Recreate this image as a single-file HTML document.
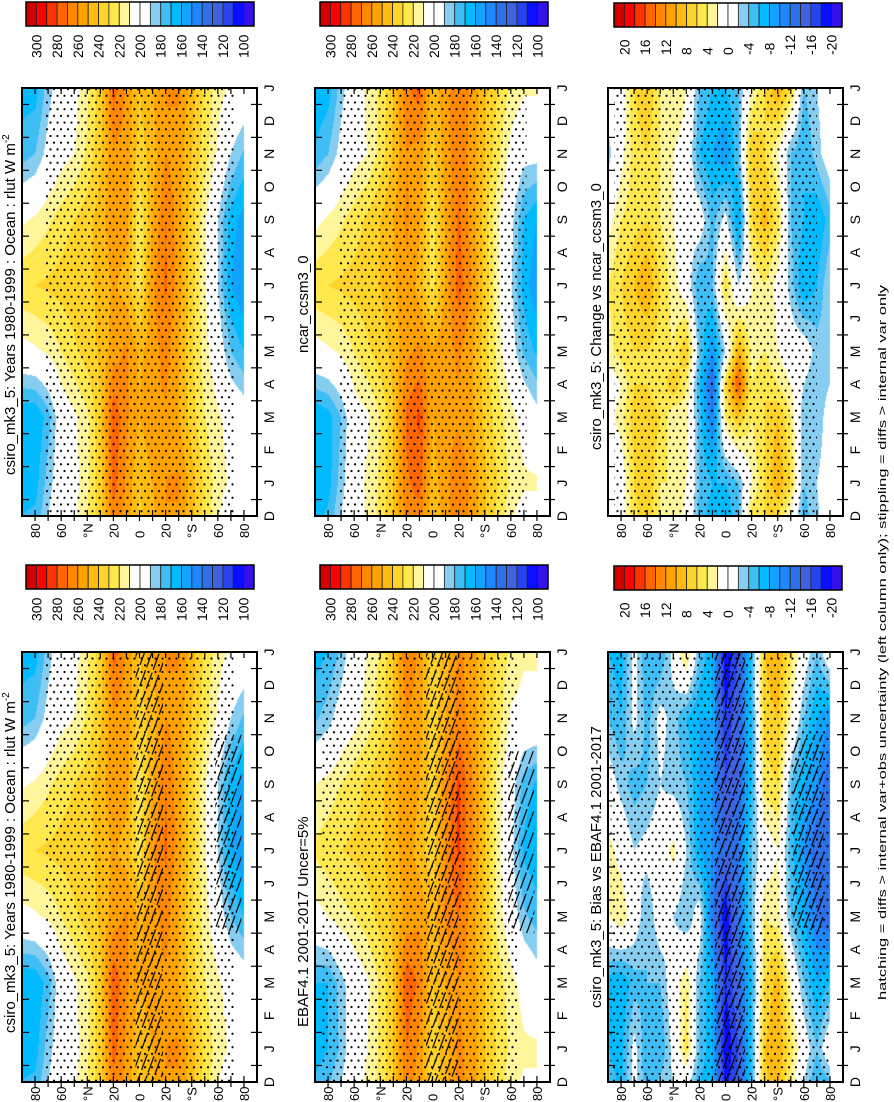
<!DOCTYPE html>
<html><head><meta charset="utf-8"><style>
html,body{margin:0;padding:0;background:#fff}
#root{position:relative;width:894px;height:1102px;overflow:hidden;font-family:"Liberation Sans",sans-serif}
canvas{position:absolute}
svg{position:absolute;left:0;top:0}
</style></head><body>
<div id="root">
<svg id="svg" width="894" height="1102" viewBox="0 0 894 1102">
<defs>
<pattern id="dots" patternUnits="userSpaceOnUse" width="7" height="13.4"><circle cx="1.5" cy="2" r="1.1" fill="#000"/><circle cx="5" cy="8.7" r="1.1" fill="#000"/></pattern>
<pattern id="hatch" patternUnits="userSpaceOnUse" width="7" height="40" patternTransform="rotate(20)"><line x1="2" y1="0" x2="2" y2="40" stroke="#000" stroke-width="1.2" stroke-dasharray="17 3"/></pattern>
</defs>
</svg>
</div>
<script>
// ---------- data (latitudes 90N..90S every 10 deg) ----------
const lats = [90,80,70,60,50,40,30,20,10,0,-10,-20,-30,-40,-50,-60,-70,-80,-90];
const monthLabels = ["D","J","F","M","A","M","J","J","A","S","O","N","D","J"];
const olrTicks = ["300","280","260","240","220","200","180","160","140","120","100"];
const diffTicks = ["20","16","12","8","4","0","-4","-8","-12","-16","-20"];
const latTickLabels = ["80","60","°N","20","0","20","°S","60","80"];
const latTickValues = [80,60,40,20,0,-20,-40,-60,-80];

const csiroMonths = [1,3,5,7,9,11];
const csiroOLR = [
 [165,165,185,200,205,218,235,275,258,240,250,260,262,245,228,215,208,205,null],
 [160,160,175,200,208,218,238,278,262,250,258,258,250,235,220,212,205,200,null],
 [205,208,212,220,228,235,242,255,262,248,255,265,250,232,215,200,180,170,null],
 [228,230,232,234,236,238,242,252,245,225,258,272,255,235,212,190,160,150,null],
 [208,212,218,225,230,236,245,258,255,222,250,270,255,235,212,190,165,155,null],
 [175,180,195,205,210,222,238,258,256,235,245,260,255,240,225,208,190,178,null]];
const ncarMonths = [1,3,5,7,9,11];
const ncarOLR = [
 [160,165,185,203,212,222,240,268,275,245,256,268,258,242,230,218,212,212,null],
 [160,165,180,203,208,220,240,272,282,250,258,258,252,238,225,214,205,195,null],
 [205,208,212,220,228,235,243,258,262,252,256,262,252,235,216,198,178,168,null],
 [228,230,232,234,236,240,248,258,246,226,252,275,260,238,212,192,165,152,null],
 [206,212,218,225,232,240,250,262,252,225,252,272,256,236,212,195,170,160,null],
 [172,180,195,205,210,224,242,260,256,236,255,268,256,240,224,206,195,195,null]];
const ebafMonths = [1,3,5,7,9,11];
const ebafOLR = [
 [165,170,182,202,210,222,240,270,258,232,245,262,256,240,228,218,212,212,null],
 [170,170,185,200,208,222,240,278,268,240,250,260,256,240,226,214,205,198,null],
 [205,210,216,220,226,233,242,254,258,246,262,270,256,238,216,200,182,175,null],
 [222,226,230,232,234,238,246,256,245,232,262,282,262,240,215,195,168,162,null],
 [210,214,220,226,232,238,246,258,250,234,260,282,262,240,216,198,175,168,null],
 [178,185,198,206,214,225,240,260,254,232,250,265,256,240,226,208,205,205,null]];
const changeMonths = [1,3,4,5,7,9,11];
const changeVals = [
 [0,0,6,8,4,4,2,-4,-6,-6,-4,2,6,10,6,-4,-2,0,null],
 [1,3,7,8,6,2,3,-5,-12,4,8,4,6,8,4,-4,-4,0,null],
 [0,2,6,6,4,8,4,-6,-14,6,16,4,6,4,2,-2,-4,-2,null],
 [3,5,6,6,5,4,8,-4,-10,-2,10,3,4,2,0,0,-3,-3,null],
 [4,6,8,10,6,3,0,-6,-4,6,-2,2,4,1,-3,-8,-6,-2,null],
 [1,4,5,6,4,2,-1,0,-5,-1,-9,6,9,5,-4,-6,-8,-5,null],
 [-3,1,5,6,4,2,1,-6,-8,-10,-4,8,6,2,-4,-6,-3,0,null]];
const biasMonths = [1,3,5,7,9,11];
const biasVals = [
 [-6,-7,-1,-6,-6,-1,5,-4,-8,-20,-16,-5,8,10,5,0,-4,1,null],
 [-7,-8,-5,-4,-4,0,4,-4,-8,-18,-14,-6,6,9,2,-4,-8,-6,null],
 [2,4,0,-4,0,-2,-4,0,-12,-20,-12,-4,4,3,-4,-8,-12,-14,null],
 [3,1,-2,-1,0,3,-2,-8,-10,-14,-12,-4,0,2,-5,-10,-14,-14,null],
 [0,-3,-5,-4,-2,-3,-4,-8,-10,-16,-14,-6,5,6,-4,-8,-10,-14,null],
 [-4,-6,-1,-5,-1,-3,-6,-8,-8,-18,-14,-6,7,8,2,-4,-8,-10,null]];

const palette = ['#d40000','#ff0000','#ff3300','#ff6600','#ff8800','#ffa200','#ffbb11','#ffd42a','#ffe84d','#fff59a','#ffffff','#ffffff','#87cdf0','#3fbdf5','#00bbff','#11a3ff','#1e88ff','#2e70e8','#4062e0','#2844f0','#0a10ff','#3412ee'];

// ---------- layout ----------
const colX = [22,315,608], panelW = 235;
const rowY = [88,652], rowH = [428,430];
const cbY = [2,565], cbH = 24, cbW = 228, cbX = [26,320,614];
const latLabOff = [22,19];
const panels = [
 {name:"csiro-climatology-top",row:0,col:0,F:csiroOLR,ms:csiroMonths,hi:300,step:10,title:"csiro_mk3_5: Years 1980-1999 : Ocean : rlut W m",sup:"-2",ty:475,stip:[[72,-72,0,13]],hat:[]},
 {name:"ncar-climatology",row:0,col:1,F:ncarOLR,ms:ncarMonths,hi:300,step:10,title:"ncar_ccsm3_0",ty:353,stip:[[72,-72,0,13]],hat:[]},
 {name:"change-vs-ncar",row:0,col:2,F:changeVals,ms:changeMonths,hi:20,step:2,title:"csiro_mk3_5: Change vs ncar_ccsm3_0",ty:450,stip:[[85,-70,0,13]],hat:[]},
 {name:"csiro-climatology-bottom",row:1,col:0,F:csiroOLR,ms:csiroMonths,hi:300,step:10,title:"csiro_mk3_5: Years 1980-1999 : Ocean : rlut W m",sup:"-2",ty:1033,stip:[[72,-72,0,13]],hat:[[3,-18,0,13],[-58,-78,4.5,10.5]]},
 {name:"ebaf-observations",row:1,col:1,F:ebafOLR,ms:ebafMonths,hi:300,step:10,title:"EBAF4.1 2001-2017 Uncer=5%",ty:1027,stip:[[85,-65,0,13]],hat:[[5,-20,0,13],[-58,-78,4.5,10]]},
 {name:"bias-vs-ebaf",row:1,col:2,F:biasVals,ms:biasMonths,hi:20,step:2,title:"csiro_mk3_5: Bias vs EBAF4.1 2001-2017",ty:1008,stip:[[88,-80,0,13]],hat:[[8,-15,0,13],[-52,-75,4.5,10.5]]}
];

function hex(c){return [parseInt(c.slice(1,3),16),parseInt(c.slice(3,5),16),parseInt(c.slice(5,7),16)];}
const palRGB = palette.map(hex);
function colorIndex(v,hi,step){ if(v>=hi) return 0; return Math.min(21,Math.floor((hi-v)/step)+1); }
function latRow(row,lat){ const f=(90-lat)/10; const j=Math.max(0,Math.min(17,Math.floor(f))); const a=f-j;
  const v0=row[j], v1=row[j+1]; if(v0==null||v1==null) return null; return v0+(v1-v0)*a; }
function fieldVal(F,ms,lat,u){
  u=((u%12)+12)%12;
  let k0=-1; for(let k=0;k<ms.length;k++) if(ms[k]<=u) k0=k;
  let r0,r1,m0,m1;
  if(k0<0){ r0=F[F.length-1]; m0=ms[ms.length-1]-12; r1=F[0]; m1=ms[0]; }
  else { r0=F[k0]; m0=ms[k0]; if(k0==ms.length-1){ r1=F[0]; m1=ms[0]+12; } else { r1=F[k0+1]; m1=ms[k0+1]; } }
  const b=(u-m0)/(m1-m0);
  const a0=latRow(r0,lat), a1=latRow(r1,lat);
  if(a0==null||a1==null) return null;
  return a0+(a1-a0)*b;
}

const root=document.getElementById('root');
const svg=document.getElementById('svg');
const NS="http://www.w3.org/2000/svg";
function el(tag,attrs,parent){ const e=document.createElementNS(NS,tag); for(const k in attrs) e.setAttribute(k,attrs[k]); (parent||svg).appendChild(e); return e; }
function rtext(x,y,str,size,anchor,parent){ const t=el('text',{transform:`translate(${x},${y}) rotate(-90)`,'font-size':size,'text-anchor':anchor||'start','font-family':'"Liberation Sans",sans-serif',fill:'#000'},parent); t.textContent=str; return t; }

panels.forEach((p,pi)=>{
  const x0=colX[p.col], y0=rowY[p.row], h=rowH[p.row], w=panelW, yb=y0+h, sp=h/13;
  const xOfLat = lat => x0 + (90-lat)/180*w;
  const yOfT = t => yb - t*sp;
  const cv=document.createElement('canvas'); cv.width=w; cv.height=h;
  cv.style.left=x0+'px'; cv.style.top=y0+'px';
  
  
  root.insertBefore(cv,svg);
  const ctx=cv.getContext('2d'); const img=ctx.createImageData(w,h);
  for(let py=0;py<h;py++){ const t=(h-py-0.5)/sp; for(let px=0;px<w;px++){
    const lat=90-(px+0.5)/w*180; const v=fieldVal(p.F,p.ms,lat,t);
    const c = v==null?[255,255,255]:palRGB[colorIndex(v,p.hi,p.step)];
    const o=(py*w+px)*4; img.data[o]=c[0];img.data[o+1]=c[1];img.data[o+2]=c[2];img.data[o+3]=255; } }
  ctx.putImageData(img,0,0);
  const g=el('g',{});
  
  
  const cid='clip'+pi; const cp=el('clipPath',{id:cid},g); el('rect',{x:x0,y:y0,width:w,height:h},cp);
  p.stip.forEach(s=>{ const r=el('rect',{x:xOfLat(s[0]),y:yOfT(s[3]),width:xOfLat(s[1])-xOfLat(s[0]),height:yOfT(s[2])-yOfT(s[3]),fill:'url(#dots)','clip-path':`url(#${cid})`},g);
      });
  p.hat.forEach(s=>{ const r=el('rect',{x:xOfLat(s[0]),y:yOfT(s[3]),width:xOfLat(s[1])-xOfLat(s[0]),height:yOfT(s[2])-yOfT(s[3]),fill:'url(#hatch)','clip-path':`url(#${cid})`},g);
      });
  for(let lat=-80;lat<=80;lat+=10){ const x=xOfLat(lat);
    el('line',{x1:x,y1:y0,x2:x,y2:y0+6,stroke:'#000','stroke-width':1.2},g);
    el('line',{x1:x,y1:yb-6,x2:x,y2:yb+5,stroke:'#000','stroke-width':1.2},g); }
  for(let i=0;i<13;i++){ const y=yOfT(i+0.5);
    el('line',{x1:x0,y1:y,x2:x0+7,y2:y,stroke:'#000','stroke-width':1.2},g);
    el('line',{x1:x0+w-6,y1:y,x2:x0+w+5,y2:y,stroke:'#000','stroke-width':1.2},g); }
  const fr=el('rect',{x:x0,y:y0,width:w,height:h,fill:'none',stroke:'#000','stroke-width':2},g);
   
  latTickLabels.forEach((lab,k)=>{ const t=rtext(xOfLat(latTickValues[k])+5,yb+latLabOff[p.row],lab,13,'start',g);
      });
  monthLabels.forEach((lab,i)=>{ const t=rtext(x0+w+17,yOfT(i),lab,14,'middle',g);
      });
  const tt=rtext(x0-7,p.ty,p.title,15,'start',g);
   
  if(p.sup){ const s=document.createElementNS(NS,'tspan'); s.setAttribute('dy','-6'); s.setAttribute('font-size','10'); s.textContent=p.sup; tt.appendChild(s); }
});

for(let r=0;r<2;r++) for(let c=0;c<3;c++){
  const g=el('g',{});
  
  
  const x0=cbX[c], y0=cbY[r]+(c==2?1:0), bw=cbW/22;
  palette.forEach((col,k)=>{ const b=el('rect',{x:x0+k*bw,y:y0,width:bw,height:cbH,fill:col,stroke:'#222','stroke-width':0.8},g);
      });
  el('rect',{x:x0,y:y0,width:cbW,height:cbH,fill:'none',stroke:'#000','stroke-width':1.5},g);
  const labs = c==2?diffTicks:olrTicks; const ly = y0+cbH+(c==2?28:32);
  labs.forEach((lab,j)=>{ const t=rtext(x0+(2*j+1)*bw+5,ly,lab,14,'start',g);
      });
}

const fn=rtext(886,1000,"hatching = diffs > internal var+obs uncertainty (left column only); stippling = diffs > internal var only",11,'start');
fn.setAttribute('textLength','715');
fn.setAttribute('lengthAdjust','spacingAndGlyphs');


</script>
</body></html>
